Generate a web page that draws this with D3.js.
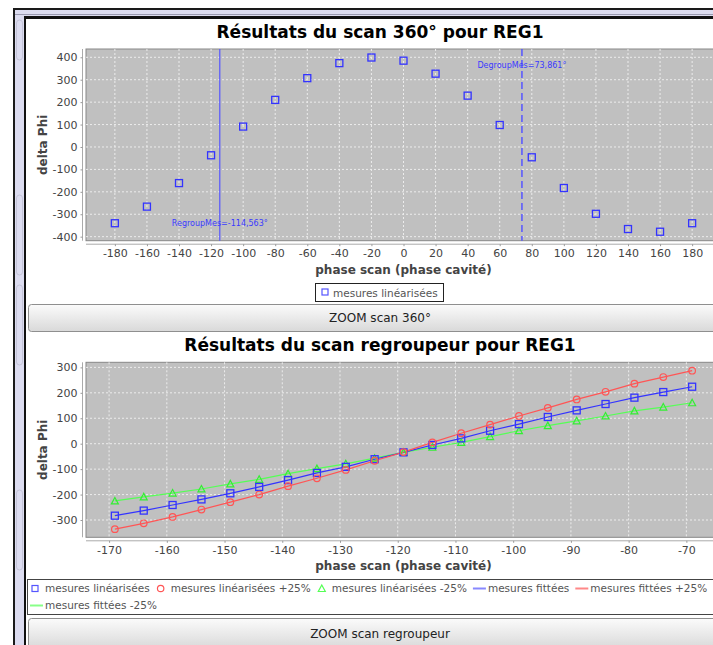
<!DOCTYPE html>
<html>
<head>
<meta charset="utf-8">
<script src="https://cdn.jsdelivr.net/npm/d3@7"></script>
<style>
  body { margin: 0; background: #fff; overflow: hidden; }
  text { font-family: "DejaVu Sans", sans-serif; }
</style>
</head>
<body>
<div id="chart"></div>
<script>
// scan 360
var scanPhase = [-180,-160,-140,-120,-100,-80,-60,-40,-20,0,20,40,60,80,100,120,140,160,180];
var scanDelta = [-340,-266,-161,-37,91,210,307,374,399,385,327,229,98,-46,-183,-298,-366,-378,-340];
var scanXTicks = [-180,-160,-140,-120,-100,-80,-60,-40,-20,0,20,40,60,80,100,120,140,160,180];
var scanYTicks = [-400,-300,-200,-100,0,100,200,300,400];
var regroupMes = -114.563, degroupMes = 73.861;

// scan regroupeur
var regPhase = [-169,-164,-159,-154,-149,-144,-139,-134,-129,-124,-119,-114,-109,-104,-99,-94,-89,-84,-79,-74,-69];
var regLin   = [-283,-263,-241,-219,-195,-170,-143,-115,-91,-61,-34,-5,21,51,77,105,131,156,181,203,224];
var regPlus  = [-336,-313,-288,-259,-230,-200,-167,-136,-103,-67,-33,5,41,75,109,141,174,204,236,262,287];
var regMinus = [-225,-209,-194,-178,-158,-140,-118,-98,-79,-57,-34,-14,5,28,51,71,90,109,129,144,161];
var regXTicks = [-170,-160,-150,-140,-130,-120,-110,-100,-90,-80,-70];
var regYTicks = [-300,-200,-100,0,100,200,300];

var blue = "#5555ff", red = "#ff5555", green = "#55ff55";
var W = 713, H = 645;

var svg = d3.select("#chart").append("svg")
    .attr("width", W).attr("height", H);

var defs = svg.append("defs");
var grad = defs.append("linearGradient").attr("id", "btn").attr("x1", 0).attr("y1", 0).attr("x2", 0).attr("y2", 1);
grad.append("stop").attr("offset", "0%").attr("stop-color", "#fbfbfb");
grad.append("stop").attr("offset", "100%").attr("stop-color", "#d9d9d9");

// window frame
svg.append("rect").attr("x", 13).attr("y", 8).attr("width", W).attr("height", H).attr("fill", "#1a1a1a");
svg.append("rect").attr("x", 15).attr("y", 10).attr("width", W).attr("height", H).attr("fill", "#dcdcf0");
svg.append("rect").attr("x", 15).attr("y", 14).attr("width", W).attr("height", 1).attr("fill", "#9a9ab0");
svg.append("rect").attr("x", 24).attr("y", 16).attr("width", W).attr("height", H).attr("fill", "#111");
svg.append("rect").attr("x", 26).attr("y", 19).attr("width", W).attr("height", H).attr("fill", "#fff");
[20, 195, 285, 490].forEach(function(y) {
  svg.append("rect").attr("x", 16.5).attr("y", y).attr("width", 6).attr("height", y === 20 ? 40 : 80).attr("rx", 3)
    .attr("fill", "none").attr("stroke", "#c4c4d8");
});

function button(y, h, label) {
  svg.append("rect").attr("x", 28.5).attr("y", y + 0.5).attr("width", W).attr("height", h)
    .attr("rx", 3).attr("fill", "url(#btn)").attr("stroke", "#8f8f8f");
  svg.append("text").attr("x", 380).attr("y", y + h / 2 + 4.5)
    .attr("text-anchor", "middle").attr("font-size", 12).attr("fill", "#222").text(label);
}

function drawPlot(o) {
  var x = d3.scaleLinear().domain(o.xDomain).range([o.left, o.right]);
  var y = d3.scaleLinear().domain(o.yDomain).range([o.bottom, o.top]);
  var g = svg.append("g");
  var fmt = function(d) { return String(d); };

  g.append("text").attr("x", 380).attr("y", o.top - 11)
    .attr("text-anchor", "middle").attr("font-size", 17).attr("font-weight", "bold")
    .attr("fill", "#000").text(o.title);

  g.append("rect").attr("x", o.left).attr("y", o.top)
    .attr("width", o.right - o.left).attr("height", o.bottom - o.top)
    .attr("fill", "#c0c0c0").attr("stroke", "#888");

  g.append("g").selectAll("line").data(o.xTicks).enter().append("line")
    .attr("x1", function(d) { return x(d); }).attr("x2", function(d) { return x(d); })
    .attr("y1", o.top).attr("y2", o.bottom)
    .attr("stroke", "#ececec").attr("stroke-dasharray", "2,2");
  g.append("g").selectAll("line").data(o.yTicks).enter().append("line")
    .attr("y1", function(d) { return y(d); }).attr("y2", function(d) { return y(d); })
    .attr("x1", o.left).attr("x2", o.right)
    .attr("stroke", "#ececec").attr("stroke-dasharray", "2,2");

  var xa = g.append("g").attr("transform", "translate(0," + (o.bottom + 3.5) + ")")
    .call(d3.axisBottom(x).tickValues(o.xTicks).tickFormat(fmt).tickSize(2).tickPadding(3).tickSizeOuter(0));
  var ya = g.append("g").attr("transform", "translate(" + (o.left - 3.5) + ",0)")
    .call(d3.axisLeft(y).tickValues(o.yTicks).tickFormat(fmt).tickSize(2).tickPadding(3).tickSizeOuter(0));
  [xa, ya].forEach(function(a) {
    a.select(".domain").attr("stroke", "#aaa");
    a.selectAll(".tick line").attr("stroke", "#999");
    a.selectAll(".tick text").attr("fill", "#444").attr("font-size", 11)
      .attr("font-family", "DejaVu Sans");
  });
  ya.select(".domain").attr("d", "M0," + o.top + "V" + o.bottom);
  xa.select(".domain").attr("d", "M" + o.left + ",0H" + o.right);

  g.append("text").attr("x", (o.left + o.right) / 2).attr("y", o.bottom + 33)
    .attr("text-anchor", "middle").attr("font-size", 12).attr("font-weight", "bold")
    .attr("fill", "#444").text("phase scan (phase cavité)");
  g.append("text")
    .attr("transform", "translate(47," + (o.top + o.bottom) / 2 + ")rotate(-90)")
    .attr("text-anchor", "middle").attr("font-size", 12).attr("font-weight", "bold")
    .attr("fill", "#444").text("delta Phi");

  return {x: x, y: y, g: g};
}

function squares(p, xs, ys, color) {
  p.g.append("g").selectAll("rect").data(xs).enter().append("rect")
    .attr("x", function(d) { return p.x(d) - 3.5; })
    .attr("y", function(d, i) { return p.y(ys[i]) - 3.5; })
    .attr("width", 7).attr("height", 7)
    .attr("fill", "none").attr("stroke", color).attr("stroke-width", 1.3);
}
function circles(p, xs, ys, color) {
  p.g.append("g").selectAll("circle").data(xs).enter().append("circle")
    .attr("cx", function(d) { return p.x(d); })
    .attr("cy", function(d, i) { return p.y(ys[i]); })
    .attr("r", 3.3).attr("fill", "none").attr("stroke", color).attr("stroke-width", 1.2);
}
function triangles(p, xs, ys, color) {
  p.g.append("g").selectAll("path").data(xs).enter().append("path")
    .attr("d", function(d, i) {
      var cx = p.x(d), cy = p.y(ys[i]);
      return "M" + cx + "," + (cy - 3.5) + "L" + (cx + 3.5) + "," + (cy + 3) + "L" + (cx - 3.5) + "," + (cy + 3) + "Z";
    })
    .attr("fill", "none").attr("stroke", color).attr("stroke-width", 1.2);
}
function fitLine(p, xs, ys, color) {
  var line = d3.line().x(function(d) { return p.x(d); }).y(function(d, i) { return p.y(ys[i]); });
  p.g.append("path").datum(xs).attr("d", line)
    .attr("fill", "none").attr("stroke", color).attr("stroke-width", 1.2);
}

// ---- chart 1 : scan 360
var p1 = drawPlot({
  title: "Résultats du scan 360° pour REG1",
  left: 86, right: 721, top: 49, bottom: 240.7,
  xDomain: [-198, 198], yDomain: [-418, 437],
  xTicks: scanXTicks, yTicks: scanYTicks
});

p1.g.append("line").attr("x1", p1.x(regroupMes)).attr("x2", p1.x(regroupMes))
  .attr("y1", 49).attr("y2", 240.7).attr("stroke", blue).attr("stroke-width", 1.2);
p1.g.append("line").attr("x1", p1.x(degroupMes)).attr("x2", p1.x(degroupMes))
  .attr("y1", 49).attr("y2", 240.7).attr("stroke", blue).attr("stroke-width", 1.5)
  .attr("stroke-dasharray", "7,4");
p1.g.append("text").attr("x", p1.x(regroupMes)).attr("y", 226)
  .attr("text-anchor", "middle").attr("font-size", 8).attr("font-family", "DejaVu Sans Mono")
  .attr("fill", "#3a3aff").text("RegroupMes=-114,563°");
p1.g.append("text").attr("x", p1.x(degroupMes)).attr("y", 68)
  .attr("text-anchor", "middle").attr("font-size", 8).attr("font-family", "DejaVu Sans Mono")
  .attr("fill", "#3a3aff").text("DegroupMes=73,861°");

squares(p1, scanPhase, scanDelta, "#3333ff");

// legend 1
svg.append("rect").attr("x", 315.5).attr("y", 283.5).attr("width", 128).attr("height", 18)
  .attr("fill", "#fff").attr("stroke", "#222");
svg.append("rect").attr("x", 322).attr("y", 289).attr("width", 6).attr("height", 6)
  .attr("fill", "none").attr("stroke", blue).attr("stroke-width", 1.2);
svg.append("text").attr("x", 333).attr("y", 296.5).attr("font-size", 10.5).attr("fill", "#555")
  .text("mesures linéarisées");

button(304, 27, "ZOOM scan 360°");

// ---- chart 2 : scan regroupeur
svg.append("rect").attr("x", 26).attr("y", 333).attr("width", W).attr("height", 285).attr("fill", "#fff");
var p2 = drawPlot({
  title: "Résultats du scan regroupeur pour REG1",
  left: 86, right: 721, top: 362.3, bottom: 537.3,
  xDomain: [-174, -64], yDomain: [-368, 320],
  xTicks: regXTicks, yTicks: regYTicks
});

fitLine(p2, regPhase, regMinus, green);
fitLine(p2, regPhase, regLin, "#3333ff");
fitLine(p2, regPhase, regPlus, red);
triangles(p2, regPhase, regMinus, "#33ee33");
squares(p2, regPhase, regLin, "#3333ff");
circles(p2, regPhase, regPlus, red);

// legend 2
svg.append("rect").attr("x", 27.5).attr("y", 579.5).attr("width", W).attr("height", 35)
  .attr("fill", "#fff").attr("stroke", "#444");
var legendItems = [
  {label: "mesures linéarisées", kind: "square", color: blue},
  {label: "mesures linéarisées +25%", kind: "circle", color: red},
  {label: "mesures linéarisées -25%", kind: "triangle", color: green},
  {label: "mesures fittées", kind: "line", color: "#8888ff"},
  {label: "mesures fittées +25%", kind: "line", color: "#ff8888"},
  {label: "mesures fittées -25%", kind: "line", color: "#88ff88"}
];
var lg = svg.append("g");
var lx = 30, ly = 592;
legendItems.forEach(function(it) {
  var t = lg.append("text").attr("font-size", 10.5).attr("fill", "#555").text(it.label);
  var tw = t.node().getComputedTextLength();
  if (lx + 15 + tw > 716) { lx = 30; ly += 17; }
  var cy = ly - 3.5;
  if (it.kind === "square") {
    lg.append("rect").attr("x", lx + 2).attr("y", cy - 3).attr("width", 6).attr("height", 6)
      .attr("fill", "none").attr("stroke", it.color).attr("stroke-width", 1.2);
  } else if (it.kind === "circle") {
    lg.append("circle").attr("cx", lx + 5).attr("cy", cy).attr("r", 3.2)
      .attr("fill", "none").attr("stroke", it.color).attr("stroke-width", 1.2);
  } else if (it.kind === "triangle") {
    lg.append("path").attr("d", "M" + (lx + 5) + "," + (cy - 3.5) + "l3.5,6.5h-7z")
      .attr("fill", "none").attr("stroke", it.color).attr("stroke-width", 1.2);
  } else {
    lg.append("line").attr("x1", lx).attr("x2", lx + 13).attr("y1", cy).attr("y2", cy)
      .attr("stroke", it.color).attr("stroke-width", 2);
  }
  t.attr("x", lx + 15).attr("y", ly);
  lx += 15 + tw + 6;
});

button(618, 30, "ZOOM scan regroupeur");
</script>
</body>
</html>
